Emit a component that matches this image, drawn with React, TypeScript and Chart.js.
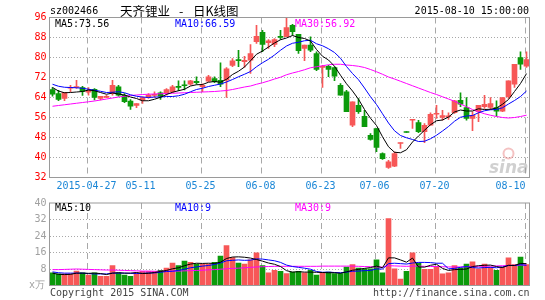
import React, { useEffect, useRef } from 'react';
import { Chart, registerables } from 'chart.js';

Chart.register(...registerables);

// ---------- data ----------
const dates = [
  '04-17','04-20','04-21','04-22','04-23','04-24','04-27','04-28','04-29','04-30',
  '05-04','05-05','05-06','05-07','05-08','05-11','05-12','05-13','05-14','05-15',
  '05-18','05-19','05-20','05-21','05-22','05-25','05-26','05-27','05-28','05-29',
  '06-01','06-02','06-03','06-04','06-05','06-08','06-09','06-10','06-11','06-12',
  '06-15','06-16','06-17','06-18','06-19','06-23','06-24','06-25','06-26','06-29',
  '06-30','07-01','07-02','07-03','07-06','07-07','07-08','07-09','07-10','07-13',
  '07-14','07-15','07-16','07-17','07-20','07-21','07-22','07-23','07-24','07-27',
  '07-28','07-29','07-30','07-31','08-03','08-04','08-05','08-06','08-07','08-10',
];

const openP = [
  67.2,65.6,63.6,67.7,68.0,68.0,66.1,67.3,63.6,64.0,
  65.6,68.3,64.9,62.6,60.8,62.9,64.0,64.8,65.9,65.6,
  66.3,68.5,69.1,69.3,70.5,68.3,70.5,71.6,70.9,70.9,
  76.8,79.2,78.3,78.9,86.3,90.1,85.9,85.2,88.5,88.3,
  92.9,89.3,83.6,85.0,81.6,76.0,76.5,76.0,68.9,66.3,
  52.9,60.9,56.5,48.9,51.6,41.6,36.0,36.5,45.6,50.3,
  54.9,54.0,50.3,52.9,57.3,56.0,56.3,57.9,62.9,60.0,
  55.6,58.3,60.3,60.0,60.0,58.5,64.3,69.3,80.0,76.5,
];
const closeP = [
  65.3,63.2,66.1,68.0,68.3,66.4,66.9,64.0,64.5,64.5,
  68.9,64.9,62.3,60.5,61.6,64.0,65.0,65.3,64.5,67.2,
  68.3,68.0,68.7,70.7,69.9,68.9,72.3,70.3,69.3,75.5,
  78.7,78.7,78.9,81.6,88.5,85.2,86.7,87.2,88.0,92.0,
  90.3,82.7,85.0,82.9,75.2,76.5,75.2,72.5,64.9,58.3,
  62.3,58.3,52.3,47.2,44.0,39.5,38.3,41.6,45.9,50.0,
  55.2,50.3,52.9,57.3,57.6,56.8,56.5,62.7,61.3,55.6,
  56.9,60.9,61.3,61.6,58.5,64.0,70.7,77.3,77.3,79.2,
];
const highP = [
  68.0,66.9,66.1,68.9,70.9,68.5,68.0,67.6,64.5,64.9,
  70.9,68.9,65.6,63.2,61.6,64.3,65.6,66.3,66.3,67.6,
  68.9,70.7,70.7,70.9,72.3,69.5,72.9,72.3,77.9,76.0,
  79.6,82.9,80.5,85.2,92.9,90.9,87.2,87.6,90.9,96.0,
  93.3,89.3,85.0,88.3,82.3,76.9,76.9,76.3,69.6,66.9,
  62.3,63.6,58.9,49.6,51.6,41.9,38.9,42.3,45.9,50.3,
  55.2,54.9,53.6,57.9,60.9,58.9,57.9,62.9,65.9,64.0,
  58.3,60.9,64.9,64.0,62.7,64.0,70.7,77.3,82.3,82.3,
];
const lowP = [
  64.5,62.7,62.7,66.3,67.6,64.8,64.9,63.0,63.0,63.9,
  64.9,64.5,61.9,59.2,59.9,61.6,63.6,64.0,63.2,64.9,
  65.9,66.7,67.0,68.9,69.3,66.3,70.3,69.9,68.3,64.0,
  76.3,76.3,76.0,73.6,85.6,82.3,83.6,84.3,87.2,88.3,
  88.9,81.6,78.7,82.3,74.7,68.0,72.3,70.7,64.9,58.3,
  52.3,57.6,52.3,46.9,42.3,39.2,35.6,36.3,43.6,50.0,
  51.6,49.9,45.9,52.9,55.6,54.9,55.2,57.6,60.3,54.9,
  50.7,54.3,59.6,59.2,56.5,58.3,63.6,68.0,75.2,76.0,
];

const ma5 = [
  68.0,66.6,65.9,66.0,66.2,66.4,67.0,66.7,66.0,65.3,
  65.8,65.4,65.0,64.2,63.6,62.7,62.7,63.3,64.1,65.2,
  66.1,66.7,67.3,68.6,69.1,69.2,70.1,70.4,70.1,71.3,
  73.2,74.5,76.2,78.7,81.3,82.6,84.2,85.8,87.1,87.8,
  88.8,88.0,87.6,86.6,83.2,80.5,79.0,76.5,72.9,69.5,
  66.6,63.3,59.2,55.7,52.8,48.3,44.3,42.1,41.9,43.1,
  46.2,48.6,50.9,53.1,54.7,55.0,56.2,58.2,59.0,58.6,
  58.6,59.5,59.2,59.3,59.8,61.3,63.2,66.4,69.6,73.56,
];
const ma10 = [
  69.3,68.5,68.1,68.0,67.9,67.7,67.3,66.9,66.5,66.0,
  66.1,66.3,65.9,65.1,64.5,64.2,64.0,64.2,64.2,64.4,
  64.4,64.7,65.3,66.3,67.2,67.7,68.4,68.9,69.4,70.2,
  71.2,72.3,73.3,74.4,76.3,77.9,79.3,81.0,82.9,84.6,
  85.7,86.1,86.7,86.9,85.5,84.7,83.5,82.0,79.7,76.4,
  73.6,71.1,67.8,64.3,61.2,57.5,53.8,50.7,48.8,47.9,
  47.2,46.4,46.5,47.5,48.9,50.6,52.4,54.5,56.1,56.6,
  56.8,57.9,58.7,59.1,59.2,59.9,61.4,62.8,64.4,66.59,
];
const ma30 = [
  60.5,60.8,61.1,61.4,61.7,62.0,62.3,62.6,63.0,63.4,
  63.8,64.2,64.5,64.8,65.0,65.2,65.3,65.4,65.5,65.6,
  65.7,65.8,65.9,66.0,66.1,66.2,66.3,66.4,66.6,66.8,
  67.2,67.7,68.2,68.6,69.3,69.9,70.6,71.4,72.1,73.1,
  73.8,74.4,75.1,75.9,76.3,76.7,77.1,77.3,77.3,77.0,
  76.8,76.5,76.0,75.2,74.3,73.3,72.2,71.4,70.5,69.6,
  68.7,67.8,66.9,66.0,65.2,64.3,63.4,62.5,61.4,60.3,
  59.2,58.3,57.5,56.9,56.4,56.0,55.8,56.0,56.4,56.92,
];

const volume = [
  6.2,5.6,5.6,5.6,7.0,6.2,5.0,6.2,4.5,4.5,
  9.6,6.2,5.0,4.5,6.2,6.9,6.9,6.9,7.3,8.4,
  10.9,9.6,11.8,11.2,10.4,10.4,10.4,11.2,14.3,19.4,
  13.5,10.9,10.4,12.4,15.8,9.6,6.2,7.3,6.9,5.8,
  6.5,6.9,6.2,7.3,5.0,6.2,6.5,5.8,5.8,8.9,
  10.1,8.4,8.1,8.1,12.4,6.1,32.4,8.1,3.1,6.9,
  15.8,10.9,7.8,7.8,9.2,5.6,6.1,9.6,8.4,10.4,
  11.5,8.1,10.4,8.9,7.3,8.9,13.4,10.1,13.8,10.1,
];
const volMa5 = [
  6.0,5.4,5.3,5.4,6.0,6.0,5.9,6.0,5.8,5.3,
  6.0,6.2,6.0,6.0,6.3,5.8,5.9,6.3,6.8,7.3,
  8.1,8.6,9.6,10.4,10.8,10.7,10.8,10.7,11.3,13.1,
  13.8,13.9,13.7,13.3,12.6,11.8,10.9,10.3,9.2,7.2,
  6.5,6.7,6.5,6.5,6.4,6.3,6.2,6.2,5.9,6.6,
  7.4,7.8,8.3,8.7,9.4,8.6,13.4,13.4,12.4,11.3,
  13.3,9.0,8.9,9.8,10.3,8.3,7.3,7.7,7.8,8.0,
  9.2,9.6,9.8,9.9,9.2,8.7,9.8,9.7,10.7,10.6,
];
const volMa10 = [
  6.6,6.2,6.0,6.0,6.0,6.0,5.8,5.6,5.6,5.6,
  6.0,6.0,6.0,5.9,5.8,5.9,6.1,6.1,6.4,6.8,
  6.9,7.3,7.9,8.6,9.0,9.4,9.7,10.2,10.9,12.0,
  12.2,12.4,12.2,12.3,12.9,12.8,12.4,12.0,11.2,9.9,
  9.2,8.8,8.4,7.9,6.8,6.4,6.5,6.3,6.2,6.5,
  6.9,7.0,7.2,7.3,8.0,8.0,10.6,10.8,10.6,10.4,
  10.9,11.2,11.2,11.1,10.8,10.8,8.1,8.3,8.8,9.2,
  8.7,8.5,8.7,8.8,8.6,9.0,9.7,9.7,10.1,9.8,
];
const volMa30 = [
  7.7,7.7,7.8,7.9,8.0,7.9,7.8,7.7,7.6,7.5,
  7.5,7.4,7.3,7.2,7.1,7.0,7.0,6.9,6.9,6.9,
  7.0,7.0,7.1,7.2,7.3,7.4,7.6,7.7,7.9,8.1,
  8.3,8.4,8.6,8.8,9.0,9.1,9.2,9.3,9.3,9.3,
  9.3,9.3,9.3,9.3,9.3,9.4,9.4,9.4,9.4,9.4,
  9.4,9.3,9.2,9.1,9.0,8.9,9.6,9.5,9.4,9.3,
  9.4,9.4,9.3,9.2,9.2,9.1,9.0,9.0,9.0,9.1,
  9.2,9.3,9.4,9.4,9.5,9.6,9.7,9.8,9.9,9.9,
];

const priceMin = 32;
const priceMax = 96;
const priceStep = 8;
const volMin = 0;
const volMax = 40;
const volStep = 8;

const dateTickDates = ['04-27', '05-11', '05-25', '06-08', '06-23', '07-06', '07-20', '08-10'];
const dateTickLabels = ['2015-04-27', '05-11', '05-25', '06-08', '06-23', '07-06', '07-20', '08-10'];

const stockCode = 'sz002466';
const stockTitle = '天齐锂业';
const chartKind = '日K线图';
const timestamp = '2015-08-10 15:00:00';
const priceMaLabels = ['MA5:73.56', 'MA10:66.59', 'MA30:56.92'];
const volMaLabels = ['MA5:10', 'MA10:9', 'MA30:9'];
const volUnit = 'x万';
const copyright = 'Copyright 2015 SINA.COM';
const siteUrl = 'http://finance.sina.com.cn';

// ---------- style ----------
const UP = '#f75757';
const DOWN = '#0b9a0b';
const MA_COLORS = ['#000000', '#0000ff', '#ff00ff'];
const MONO = "'DejaVu Sans Mono', 'Liberation Mono', monospace";
const CJK = "'Noto Sans CJK SC', sans-serif";
const FRAME = '#9a9a9a';
const GRID = '#a8a8a8';
const DATE_BLUE = '#1a86d6';

const candleColors = openP.map((o, i) => (closeP[i] >= o ? UP : DOWN));

function tickLineX(x: any, d: string) {
  const idx = dates.indexOf(d);
  const c = x.getPixelForValue(idx);
  return Math.floor(c) - 1 + 0.5;
}

function drawVerticals(chart: any) {
  const { ctx, chartArea: a, scales } = chart;
  ctx.save();
  ctx.strokeStyle = GRID;
  ctx.lineWidth = 1;
  ctx.setLineDash([6, 4]);
  dateTickDates.forEach((d) => {
    const px = tickLineX(scales.x, d);
    ctx.beginPath();
    ctx.moveTo(px, a.top);
    ctx.lineTo(px, a.bottom);
    ctx.stroke();
  });
  ctx.restore();
}

function drawFrame(chart: any) {
  const { ctx, chartArea: a } = chart;
  ctx.save();
  ctx.strokeStyle = FRAME;
  ctx.lineWidth = 1;
  ctx.strokeRect(a.left, a.top, a.right - a.left, a.bottom - a.top);
  ctx.restore();
}

const mainDeco = {
  id: 'mainDeco',
  beforeDatasetsDraw(chart: any) {
    const { ctx, chartArea: a } = chart;
    drawVerticals(chart);
    // watermark
    ctx.save();
    ctx.fillStyle = 'rgba(150,150,150,0.45)';
    ctx.font = "italic bold 17px 'DejaVu Sans', sans-serif";
    ctx.textAlign = 'right';
    ctx.textBaseline = 'alphabetic';
    ctx.fillText('sina', a.right - 1, a.bottom - 5);
    ctx.strokeStyle = 'rgba(230,120,120,0.45)';
    ctx.lineWidth = 2;
    ctx.beginPath();
    ctx.arc(a.right - 21, a.bottom - 24, 5, 0, Math.PI * 2);
    ctx.stroke();
    ctx.restore();
  },
  afterDraw(chart: any) {
    const { ctx, chartArea: a, scales } = chart;
    drawFrame(chart);
    ctx.save();
    ctx.textBaseline = 'middle';
    // header
    ctx.fillStyle = '#000';
    ctx.font = `10px ${MONO}`;
    ctx.textAlign = 'left';
    ctx.fillText(stockCode, 50, 11);
    ctx.font = `12.5px ${CJK}`;
    ctx.fillText(stockTitle, 120, 11);
    ctx.fillText('-', 179, 11);
    ctx.fillText(chartKind, 193, 11);
    ctx.font = `10px ${MONO}`;
    ctx.textAlign = 'right';
    ctx.fillText(timestamp, 529, 11);
    // MA labels
    ctx.textAlign = 'left';
    const maX = [55, 175, 295];
    priceMaLabels.forEach((t, i) => {
      ctx.fillStyle = MA_COLORS[i];
      ctx.fillText(t, maX[i], a.top + 6.5);
    });
    // date labels
    ctx.fillStyle = DATE_BLUE;
    dateTickDates.forEach((d, i) => {
      const px = tickLineX(scales.x, d);
      const last = i === dateTickDates.length - 1;
      ctx.textAlign = last ? 'right' : 'center';
      ctx.fillText(dateTickLabels[i], last ? px : px - 1, a.bottom + 9);
    });
    ctx.restore();
  },
};

const volDeco = {
  id: 'volDeco',
  beforeDatasetsDraw(chart: any) {
    drawVerticals(chart);
  },
  afterDraw(chart: any) {
    const { ctx, chartArea: a } = chart;
    drawFrame(chart);
    ctx.save();
    ctx.textBaseline = 'middle';
    ctx.font = `10px ${MONO}`;
    ctx.textAlign = 'left';
    const maX = [55, 175, 295];
    volMaLabels.forEach((t, i) => {
      ctx.fillStyle = MA_COLORS[i];
      ctx.fillText(t, maX[i], a.top + 5.5);
    });
    ctx.fillStyle = '#a0a0a0';
    ctx.font = `10px ${MONO}`;
    ctx.fillText(volUnit, 29, a.bottom);
    ctx.fillStyle = '#444';
    ctx.font = `10px ${MONO}`;
    ctx.fillText(copyright, 50, 98);
    ctx.textAlign = 'right';
    ctx.fillText(siteUrl, 529.5, 98);
    ctx.restore();
  },
};

function lineDs(label: string, data: number[], color: string) {
  return {
    type: 'line' as const,
    label,
    data,
    borderColor: color,
    backgroundColor: color,
    borderWidth: 1,
    pointRadius: 0,
    tension: 0,
    order: 1,
  };
}

export default function App() {
  const mainRef = useRef<HTMLCanvasElement>(null);
  const volRef = useRef<HTMLCanvasElement>(null);

  useEffect(() => {
    const c1 = new Chart(mainRef.current as HTMLCanvasElement, {
      type: 'bar',
      data: {
        labels: dates,
        datasets: [
          lineDs('MA5', ma5, MA_COLORS[0]),
          lineDs('MA10', ma10, MA_COLORS[1]),
          lineDs('MA30', ma30, MA_COLORS[2]),
          {
            type: 'bar',
            label: 'body',
            data: openP.map((o, i) => [o, closeP[i]]),
            backgroundColor: candleColors,
            barThickness: 5,
            grouped: false,
            minBarLength: 1,
            order: 2,
          },
          {
            type: 'bar',
            label: 'wick',
            data: lowP.map((l, i) => [l, highP[i]]),
            backgroundColor: candleColors,
            barThickness: 1,
            grouped: false,
            minBarLength: 1,
            order: 3,
          },
        ] as any,
      },
      options: {
        animation: false,
        responsive: false,
        maintainAspectRatio: false,
        events: [],
        layout: { padding: { left: 0.5, top: 17.5, right: 15.5, bottom: 17.5 } },
        plugins: { legend: { display: false }, tooltip: { enabled: false } },
        scales: {
          x: { type: 'category', display: false, offset: true },
          y: {
            min: priceMin,
            max: priceMax,
            afterFit: (s: any) => { s.width = 49; },
            ticks: { stepSize: priceStep, color: '#ff0000', padding: 3, font: { family: MONO, size: 10, lineHeight: 1 } },
            grid: {
              drawTicks: false,
              color: (c: any) => (c.tick && (c.tick.value === priceMin || c.tick.value === priceMax) ? 'rgba(0,0,0,0)' : GRID),
            },
            border: { display: false, dash: [1, 2] },
          },
        },
      } as any,
      plugins: [mainDeco],
    });

    const c2 = new Chart(volRef.current as HTMLCanvasElement, {
      type: 'bar',
      data: {
        labels: dates,
        datasets: [
          lineDs('MA5', volMa5, MA_COLORS[0]),
          lineDs('MA10', volMa10, MA_COLORS[1]),
          lineDs('MA30', volMa30, MA_COLORS[2]),
          {
            type: 'bar',
            label: 'volume',
            data: volume,
            backgroundColor: candleColors,
            barThickness: 5,
            grouped: false,
            order: 2,
          },
        ] as any,
      },
      options: {
        animation: false,
        responsive: false,
        maintainAspectRatio: false,
        events: [],
        layout: { padding: { left: 0.5, top: 6.5, right: 15.5, bottom: 14.5 } },
        plugins: { legend: { display: false }, tooltip: { enabled: false } },
        scales: {
          x: { type: 'category', display: false, offset: true },
          y: {
            min: volMin,
            max: volMax,
            afterFit: (s: any) => { s.width = 49; },
            ticks: {
              stepSize: volStep,
              color: '#a0a0a0',
              padding: 3,
              font: { family: MONO, size: 10, lineHeight: 1 },
              callback: (v: any) => (v === volMin ? '' : String(v)),
            },
            grid: {
              drawTicks: false,
              color: (c: any) => (c.tick && (c.tick.value === volMin || c.tick.value === volMax) ? 'rgba(0,0,0,0)' : GRID),
            },
            border: { display: false, dash: [1, 2] },
          },
        },
      } as any,
      plugins: [volDeco],
    });

    return () => {
      c1.destroy();
      c2.destroy();
    };
  }, []);

  return (
    <div style={{ position: 'fixed', left: 0, top: 0, width: 545, height: 300, background: '#fff', overflow: 'hidden' }}>
      <canvas ref={mainRef} width={545} height={195} style={{ position: 'absolute', left: 0, top: 0, width: 545, height: 195 }} />
      <canvas ref={volRef} width={545} height={105} style={{ position: 'absolute', left: 0, top: 195, width: 545, height: 105 }} />
    </div>
  );
}
